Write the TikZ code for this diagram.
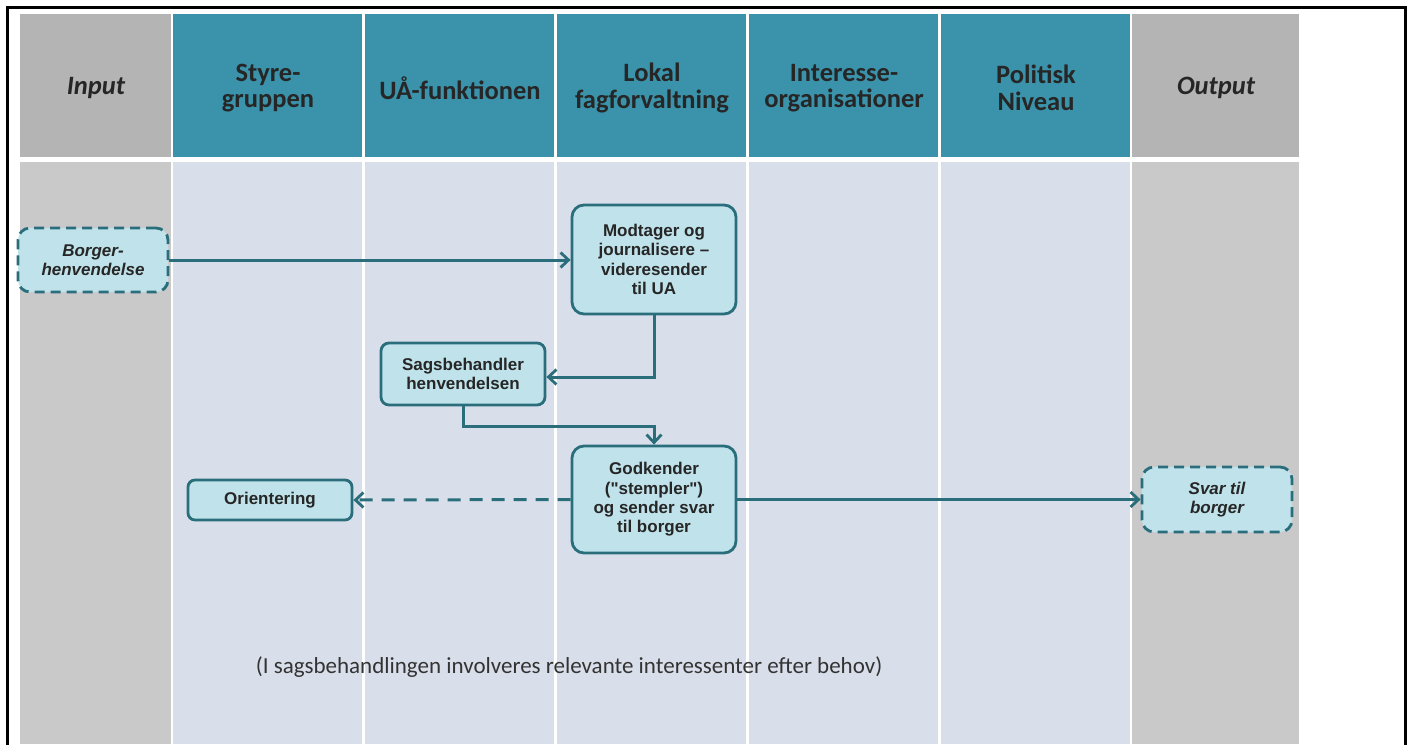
\documentclass[tikz,border=0pt]{standalone}
\usepackage{fontspec}
\setmainfont{Liberation Sans}
\newfontfamily\calfont{Carlito}
\usetikzlibrary{arrows.meta}
\definecolor{hdteal}{RGB}{58,147,171}
\definecolor{hdgray}{RGB}{180,180,180}
\definecolor{bdblue}{RGB}{217,223,234}
\definecolor{bdgray}{RGB}{201,201,201}
\definecolor{nodefill}{RGB}{192,226,234}
\definecolor{nodeline}{RGB}{42,110,124}
\tikzset{
  hdtext/.style={font=\calfont\bfseries\fontsize{26.5}{26.5}\selectfont, align=center, text=black!85},
  proc/.style={draw=nodeline, fill=nodefill, line width=2.8pt, rounded corners=12pt, align=center,
    font=\bfseries\fontsize{17}{19.3}\selectfont, inner sep=0pt, text=black!85},
  term/.style={proc, dash pattern=on 10pt off 6pt, font=\bfseries\itshape\fontsize{17}{19.3}\selectfont},
  conn/.style={draw=nodeline, line width=3pt, -{Straight Barb[length=8pt,width=15pt,line width=2.8pt]}},
}
\begin{document}
\begin{tikzpicture}[x=1pt,y=-1pt]
\useasboundingbox (0,0) rectangle (1412,744);
\fill[white] (0,0) rectangle (1412,744);
% columns
\fill[hdgray] (20,14) rectangle (171,157);
\fill[bdgray] (20,162) rectangle (171,744);
\foreach \a/\b in {173/362,365/554,557/746,749/938,941/1130}{
  \fill[hdteal] (\a,14) rectangle (\b,157);
  \fill[bdblue] (\a,162) rectangle (\b,744);
}
\fill[hdgray] (1132,14) rectangle (1299,157);
\fill[bdgray] (1132,162) rectangle (1299,744);
% frame
\draw[line width=3pt] (7,746) -- (7,7) -- (1405,7) -- (1405,746);
% headers
\node[hdtext] (hin) at (96,88) {\itshape Input};
\node[hdtext] (hst) at (268,88) {Styre-\\gruppen};
\node[hdtext] (hua) at (460,88) {UÅ-funktionen};
\node[hdtext] (hlo) at (652,88) {Lokal\\fagforvaltning};
\node[hdtext] (hin2) at (844,88) {Interesse-\\organisationer};
\node[hdtext] (hpo) at (1036,88) {Politisk\\Niveau};
\node[hdtext] (hout) at (1216,88) {\itshape Output};
% nodes
\node[term, minimum width=150pt, minimum height=64pt] (borger) at (93,260) {Borger-\\henvendelse};
\node[proc, minimum width=164pt, minimum height=109pt] (modt) at (654,259.5) {Modtager og\\journalisere --\\videresender\\til UA};
\node[proc, rounded corners=8pt, minimum width=164pt, minimum height=62pt] (sags) at (463,374) {Sagsbehandler\\henvendelsen};
\node[proc, minimum width=164pt, minimum height=107pt] (godk) at (654,499.5) {Godkender\\(\textquotedbl stempler\textquotedbl)\\og sender svar\\til borger};
\node[proc, rounded corners=7pt, minimum width=164pt, minimum height=40pt] (orient) at (270,500) {Orientering};
\node[term, minimum width=150pt, minimum height=65pt] (svar) at (1217,499.5) {Svar til\\borger};
\node[font=\calfont\fontsize{23}{26}\selectfont, text=black!80] (note) at (569,667) {(I sagsbehandlingen involveres relevante interessenter efter behov)};
% connectors
\draw[conn] (borger.east) -- (borger.east -| modt.west);
\draw[conn] (modt.south) |- ([yshift=-3pt]sags.east);
\draw[conn] (sags.south) -- ++(0,20) -| (godk.north);
\draw[conn, dash pattern=on 13pt off 9pt] (godk.west) -- (orient.east);
\draw[conn] (godk.east) -- (svar.west);
\end{tikzpicture}
\end{document}
